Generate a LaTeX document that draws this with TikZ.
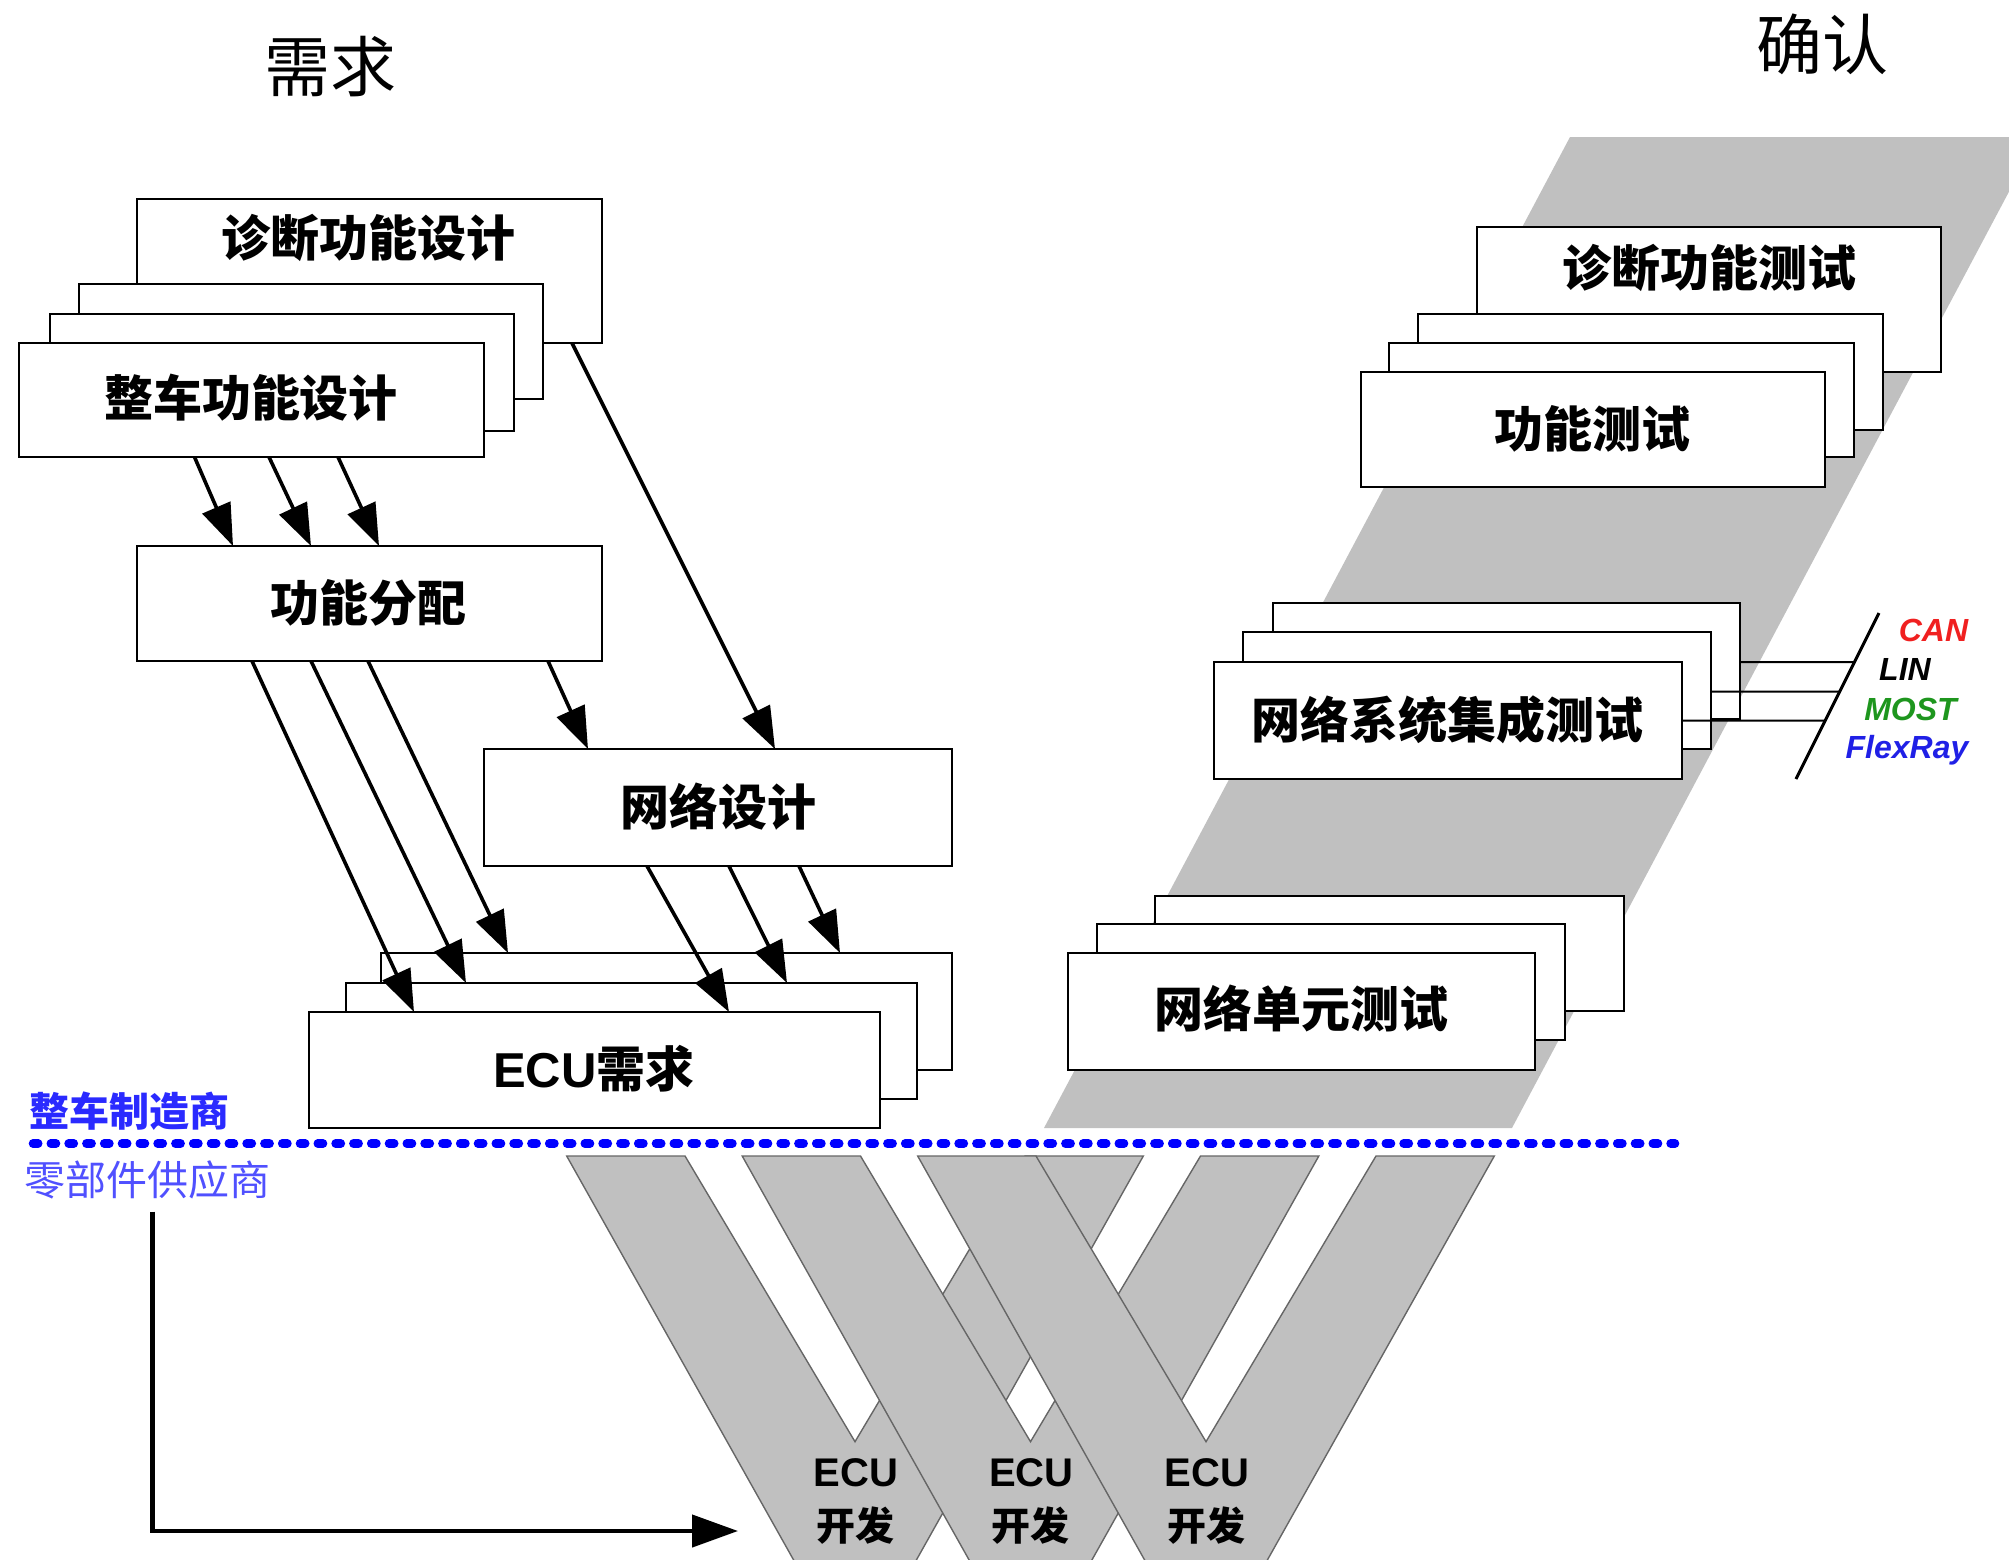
\documentclass[tikz,border=0pt]{standalone}
\usepackage{fontspec}
\setmainfont{Liberation Sans}
\newfontfamily\cjk{Noto Sans CJK SC}
\newfontfamily\lsans{Liberation Sans}
\usetikzlibrary{arrows.meta,calc,fit}
\definecolor{bandgray}{HTML}{C0C0C0}
\definecolor{wline}{HTML}{666666}
\definecolor{oemblue}{HTML}{2A2AFF}
\definecolor{supblue}{HTML}{5050FF}
\definecolor{canred}{HTML}{F02020}
\definecolor{mostgreen}{HTML}{1E961E}
\definecolor{flexblue}{HTML}{2020E6}
\definecolor{dotblue}{HTML}{0000FF}
\newcommand\mybox[5]{\node[box, fit={(#2,#3) (#4,#5)}] (#1) {};}
\newcommand\vshape[1]{%
  \filldraw[wshape] ({#1-288.3},1156) -- ({#1-170},1156) -- (#1,1441.7) -- ({#1+170},1156)
    -- ({#1+288.3},1156) -- ({#1+58},1566) -- ({#1-58},1566) -- cycle;}
\begin{document}
\begin{tikzpicture}[x=0.5pt,y=-0.5pt,
  box/.style={draw=black, line width=1.3pt, fill=white, inner sep=0pt, outer sep=0pt},
  boxtext/.style={font=\cjk\bfseries\fontsize{24.5}{29}\selectfont, inner sep=0pt},
  flow/.style={line width=1.8pt, -{Triangle[length=21pt,width=15pt]}},
  bigflow/.style={line width=2.2pt, -{Triangle[length=23pt,width=16pt]}},
  wshape/.style={fill=bandgray, draw=wline, line width=0.7pt},
  devtext/.style={font=\lsans\bfseries\fontsize{20}{24}\selectfont, inner sep=0pt},
  devcjk/.style={font=\cjk\bfseries\fontsize{19.5}{24}\selectfont, inner sep=0pt},
  bus/.style={font=\lsans\bfseries\itshape\fontsize{16}{19}\selectfont, inner sep=0pt, anchor=base},
  title/.style={font=\cjk\fontsize{33}{40}\selectfont, inner sep=0pt},
  busline/.style={line width=1pt},
  dotline/.style={dotblue, line width=4.3pt, line cap=round, dash pattern=on 2.6pt off 6.3pt}
]
\useasboundingbox (0,0) rectangle (2009,1559);
\begin{scope}
\clip (0,0) rectangle (2009,1559);
% right gray band
\fill[bandgray] (1570,137) -- (2038,137) -- (1512,1128) -- (1044,1128) -- cycle;
% W shapes
\vshape{855}
\vshape{1030.5}
\vshape{1206}
\end{scope}

% ---------- right column ----------
\mybox{td}{1477}{227}{1941}{372}
\mybox{tb1}{1418}{314}{1883}{430}
\mybox{tb2}{1389}{343}{1854}{457}
\mybox{tf}{1361}{372}{1825}{487}
\node[boxtext] (td-t) at (1709,268) {诊断功能测试};
\node[boxtext] (tf-t) at (1592,429) {功能测试};

\mybox{sb1}{1273}{603}{1740}{719}
\mybox{sb2}{1243}{632}{1711}{749}
\mybox{si}{1214}{662}{1682}{779}
\node[boxtext] (si-t) at (1447,720) {网络系统集成测试};

\coordinate (s1) at (1879,613);
\coordinate (s2) at (1796,779);
\draw[line width=1.5pt] (s1) -- (s2);
\draw[busline] ($(sb1.north east)+(0,59)$) -- ($(s1)!0.2952!(s2)$);
\draw[busline] ($(sb2.north east)+(0,59.5)$) -- ($(s1)!0.4729!(s2)$);
\draw[busline] ($(si.north east)+(0,58.5)$) -- ($(s1)!0.6476!(s2)$);
\node[bus, text=canred] (can) at (1933.5,641) {CAN};
\node[bus, text=black] (lin) at (1905,680) {LIN};
\node[bus, text=mostgreen] (most) at (1910.5,720.5) {MOST};
\node[bus, text=flexblue] (flex) at (1907,758.5) {FlexRay};

\mybox{ub1}{1155}{896}{1624}{1011}
\mybox{ub2}{1097}{924}{1565}{1040}
\mybox{ut}{1068}{953}{1535}{1070}
\node[boxtext] (ut-t) at (1301,1009) {网络单元测试};

% ---------- left column ----------
\mybox{zd}{137}{199}{602}{343}
\mybox{zb1}{79}{284}{543}{399}
\mybox{zb2}{50}{314}{514}{431}
\mybox{zc}{19}{343}{484}{457}
\node[boxtext] (zd-t) at (368,238) {诊断功能设计};
\node[boxtext] (zc-t) at (251,398) {整车功能设计};

\mybox{fp}{137}{546}{602}{661}
\node[boxtext] (fp-t) at (368,603) {功能分配};

\mybox{nd}{484}{749}{952}{866}
\node[boxtext] (nd-t) at (718,807) {网络设计};

\mybox{eb1}{381}{953}{952}{1070}
\mybox{eb2}{346}{983}{917}{1099}
\mybox{er}{309}{1012}{880}{1128}
\node[boxtext] (er-t) at (594,1069) {{\lsans\bfseries ECU}需求};

% arrows
\draw[flow] ($(zc.south west)+(175.5,0)$) -- ($(fp.north west)+(96,0)$);
\draw[flow] ($(zc.south west)+(250,0)$) -- ($(fp.north west)+(174,0)$);
\draw[flow] ($(zc.south west)+(319,0)$) -- ($(fp.north west)+(242,0)$);
\draw[flow] ($(zd.south west)+(435,0)$) -- ($(nd.north west)+(291,0)$);
\draw[flow] ($(fp.south west)+(411,0)$) -- ($(nd.north west)+(104,0)$);
\draw[flow] ($(fp.south west)+(115,0)$) -- ($(er.north west)+(105,0)$);
\draw[flow] ($(fp.south west)+(174,0)$) -- ($(eb2.north west)+(120,0)$);
\draw[flow] ($(fp.south west)+(231,0)$) -- ($(eb1.north west)+(127,0)$);
\draw[flow] ($(nd.south west)+(163,0)$) -- ($(er.north west)+(420,0)$);
\draw[flow] ($(nd.south west)+(245,0)$) -- ($(eb2.north west)+(441,0)$);
\draw[flow] ($(nd.south west)+(315,0)$) -- ($(eb1.north west)+(459,0)$);

% ECU development labels
\node[devtext] (d1e) at (856,1473) {ECU};
\node[devcjk] (d1k) at (855,1526) {开发};
\node[devtext] (d2e) at (1031.5,1473) {ECU};
\node[devcjk] (d2k) at (1030.5,1526) {开发};
\node[devtext] (d3e) at (1207,1473) {ECU};
\node[devcjk] (d3k) at (1206,1526) {开发};

% divider
\draw[dotline] (33,1143.5) -- (1675,1143.5);
\node[font=\cjk\bfseries\fontsize{20}{24}\selectfont, text=oemblue, inner sep=0pt] (oem) at (130,1111) {整车制造商};
\node[font=\cjk\fontsize{20.5}{24}\selectfont, text=supblue, inner sep=0pt] (sup) at (148,1180) {零部件供应商};

% supplier arrow
\coordinate (devin) at (738,1531);
\draw[bigflow] ($(sup.south)+(4.6,12)$) |- (devin);

% titles
\node[title] (req) at (330,67) {需求};
\node[title] (conf) at (1822,44) {确认};
\end{tikzpicture}
\end{document}
